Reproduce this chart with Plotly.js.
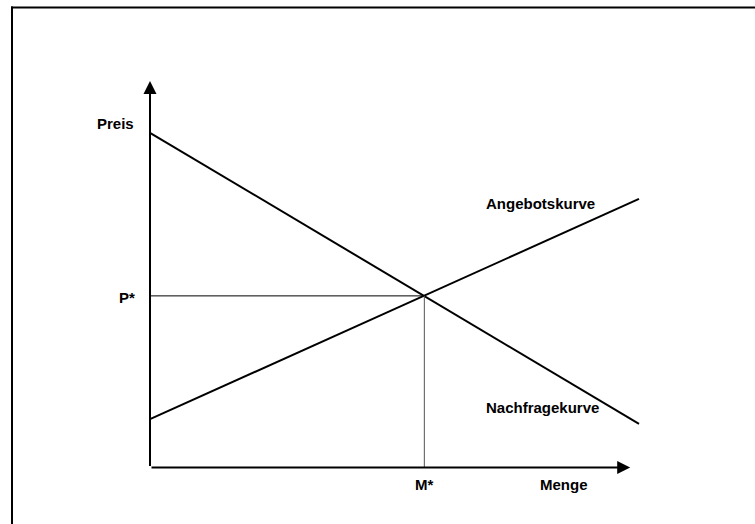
<!DOCTYPE html>
<html>
<head>
<meta charset="utf-8">
<script src="https://cdn.plot.ly/plotly-3.0.1.min.js"></script>
<style>html,body{margin:0;padding:0;background:#fff;}#chart{width:755px;height:524px;}</style>
</head>
<body>
<div id="chart"></div>
<script>
// Data (economic units)
const quantity = [0, 10];
const demandPrice = [8.66, 1.13];
const supplyPrice = [1.25, 6.95];
const equilibriumQ = 5.61;
const equilibriumP = 4.44;
const axisMaxQ = 9.82;
const axisMaxP = 10;
const labelPreis = "Preis";
const labelMenge = "Menge";
const labelP = "P*";
const labelM = "M*";
const labelSupply = "Angebotskurve";
const labelDemand = "Nachfragekurve";

const W = 755, H = 524;
const font = {family: "Liberation Sans, Arial, sans-serif", size: 15, color: "#000"};

const traces = [
  {x: quantity, y: demandPrice, mode: "lines", line: {color: "#000", width: 2}, hoverinfo: "skip"},
  {x: quantity, y: supplyPrice, mode: "lines", line: {color: "#000", width: 2}, hoverinfo: "skip"},
  {x: [0, equilibriumQ], y: [equilibriumP, equilibriumP], mode: "lines", line: {color: "#000", width: 1}, hoverinfo: "skip"},
  {x: [equilibriumQ, equilibriumQ], y: [equilibriumP, 0], mode: "lines", line: {color: "#555", width: 1}, hoverinfo: "skip"}
];

function txt(text, x, y, xanchor, yanchor) {
  return {text: "<b>" + text + "</b>", x: x, y: y, xref: "x", yref: "y", showarrow: false,
          xanchor: xanchor, yanchor: yanchor || "middle", font: font};
}

const annotations = [
  // axes with arrowheads
  {x: 0, y: axisMaxP, ax: 0, ay: 0, xref: "x", yref: "y", axref: "x", ayref: "y", text: "",
   showarrow: true, arrowhead: 2, arrowsize: 1.3, arrowwidth: 2, arrowcolor: "#000", standoff: 0, startstandoff: 0},
  {x: axisMaxQ, y: 0, ax: 0, ay: 0, xref: "x", yref: "y", axref: "x", ayref: "y", text: "",
   showarrow: true, arrowhead: 2, arrowsize: 1.3, arrowwidth: 2, arrowcolor: "#000", standoff: 0, startstandoff: 0},
  txt(labelPreis, -0.29, 8.91, "right"),
  txt(labelP, -0.27, 4.4, "right"),
  txt(labelM, equilibriumQ, -0.45, "center"),
  txt(labelMenge, 8.47, -0.45, "center"),
  txt(labelSupply, 6.82, 6.84, "left"),
  txt(labelDemand, 6.82, 1.55, "left")
];

const shapes = [
  {type: "line", xref: "paper", yref: "paper", x0: 11/W, x1: 1, y0: 1 - 7.5/H, y1: 1 - 7.5/H, line: {color: "#000", width: 2}},
  {type: "line", xref: "paper", yref: "paper", x0: 12/W, x1: 12/W, y0: 0, y1: 1 - 6.5/H, line: {color: "#000", width: 2}}
];

// pixel geometry of the plot: origin at (150, 467.5), Q=10 at x=639, P=10 at y=81
const pxPerQ = (639 - 150) / 10;
const pxPerP = (467.5 - 81) / 10;

const layout = {
  width: W, height: H,
  margin: {l: 0, r: 0, t: 0, b: 0},
  paper_bgcolor: "#fff", plot_bgcolor: "#fff",
  showlegend: false,
  xaxis: {range: [-150 / pxPerQ, (W - 150) / pxPerQ], domain: [0, 1], visible: false, fixedrange: true},
  yaxis: {range: [-(H - 467.5) / pxPerP, 467.5 / pxPerP], domain: [0, 1], visible: false, fixedrange: true},
  annotations: annotations,
  shapes: shapes
};

Plotly.newPlot("chart", traces, layout, {staticPlot: true, displayModeBar: false});
</script>
</body>
</html>
